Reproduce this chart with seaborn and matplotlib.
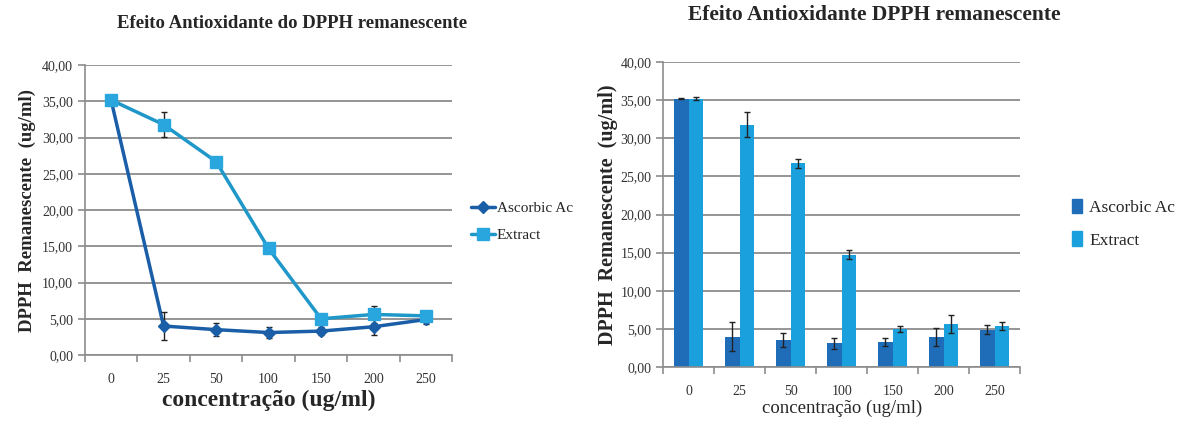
import numpy as np
import pandas as pd
import matplotlib
matplotlib.use("Agg")
import matplotlib.pyplot as plt
import seaborn as sns
from matplotlib.ticker import FuncFormatter, FixedLocator
from matplotlib.container import BarContainer
from matplotlib.lines import Line2D
from matplotlib.patches import Patch

categories = ["0", "25", "50", "100", "150", "200", "250"]
ascorbic = [35.2, 4.0, 3.5, 3.1, 3.3, 3.9, 4.9]
ascorbic_err = [0.1, 1.9, 0.9, 0.7, 0.5, 1.2, 0.6]
extract = [35.2, 31.8, 26.7, 14.7, 5.0, 5.6, 5.4]
extract_err = [0.2, 1.7, 0.6, 0.6, 0.4, 1.2, 0.5]
series_names = ["Ascorbic Ac", "Extract"]
yticks = [0, 5, 10, 15, 20, 25, 30, 35, 40]

sns.set_theme(style="white")
plt.rcParams["font.family"] = ["Liberation Serif", "DejaVu Serif"]

c_asc_line = "#1a5ea8"
c_ext_line = "#1f97c8"
c_ext_mark = "#2aa6df"
c_asc_bar = "#1f6db8"
c_ext_bar = "#1aa0dc"

fig = plt.figure(figsize=(11.78, 4.29), dpi=100)
ax1 = fig.add_axes([0.072, 0.1725, 0.312, 0.6755])
ax2 = fig.add_axes([0.563, 0.1445, 0.303, 0.711])

n = len(categories)
df = pd.DataFrame({
    "pos": list(range(n)) * 2,
    "value": ascorbic + extract,
    "err": ascorbic_err + extract_err,
    "serie": [series_names[0]] * n + [series_names[1]] * n,
    "cat": categories * 2,
})

fmt = FuncFormatter(lambda v, p: f"{v:.2f}".replace(".", ","))

def style_axis(ax):
    ax.set_ylim(0, 40)
    ax.set_yticks(yticks)
    ax.yaxis.set_major_formatter(fmt)
    ax.set_xlim(-0.5, n - 0.5)
    ax.grid(axis="y", color="#8c8c8c", linewidth=1.3)
    ax.grid(axis="x", visible=False)
    for s in ["top", "right"]:
        ax.spines[s].set_visible(False)
    for s in ["left", "bottom"]:
        ax.spines[s].set_color("#8c8c8c")
        ax.spines[s].set_linewidth(1.2)
    ax.set_xticks(range(n))
    ax.set_xticklabels(categories)
    ax.xaxis.set_minor_locator(FixedLocator(np.arange(-0.5, n, 1.0)))
    ax.tick_params(axis="x", which="major", length=0, pad=13, labelsize=10, labelcolor="#333333")
    ax.tick_params(axis="x", which="minor", length=5, width=1.2, color="#8c8c8c", direction="out", bottom=True)
    ax.tick_params(axis="y", which="major", length=5, width=1.2, color="#8c8c8c", direction="out",
                   labelsize=10, labelcolor="#333333", left=True)
    ax.set_axisbelow(True)

# Left: line chart
sns.lineplot(data=df, x="pos", y="value", hue="serie", palette=[c_asc_line, c_ext_line],
             ax=ax1, linewidth=2.5, legend=False, zorder=3)
for name, vals, errs, mk, ms, mc in [
    (series_names[0], ascorbic, ascorbic_err, "D", 6, c_asc_line),
    (series_names[1], extract, extract_err, "s", 9, c_ext_mark),
]:
    ax1.errorbar(range(n), vals, yerr=errs, fmt="none", ecolor="#222222", elinewidth=1, capsize=2.5, zorder=4)
    ax1.plot(range(n), vals, linestyle="none", marker=mk, markersize=ms, color=mc, zorder=5)
style_axis(ax1)
ax1.set_xlabel("concentração (ug/ml)", fontsize=17, fontweight="bold", labelpad=3)
ax1.set_ylabel("DPPH  Remanescente  (ug/ml)", fontsize=13.5, fontweight="bold", labelpad=4)
ax1.set_title("Efeito Antioxidante do DPPH remanescente", fontsize=13.5, fontweight="bold", pad=27, x=0.564)
h1 = [Line2D([], [], color=c_asc_line, lw=2.5, marker="D", markersize=6),
      Line2D([], [], color=c_ext_line, lw=2.5, marker="s", markersize=8, markerfacecolor=c_ext_mark, markeredgecolor=c_ext_mark)]
ax1.legend(h1, series_names, loc="center left", bbox_to_anchor=(1.03, 0.46), frameon=False,
           fontsize=11, handlelength=1.6, handletextpad=0.1, labelspacing=0.85, borderpad=0)

# Right: bar chart
sns.barplot(data=df, x="cat", y="value", hue="serie", palette=[c_asc_bar, c_ext_bar],
            ax=ax2, errorbar=None, width=0.57, saturation=1, order=categories, legend=False,
            linewidth=0)
bar_conts = [c for c in ax2.containers if isinstance(c, BarContainer)]
for cont, vals, errs in zip(bar_conts, [ascorbic, extract], [ascorbic_err, extract_err]):
    xs = [b.get_x() + b.get_width() / 2 for b in cont]
    ax2.errorbar(xs, vals, yerr=errs, fmt="none", ecolor="#222222", elinewidth=1, capsize=2.5, zorder=4)
style_axis(ax2)
ax2.set_xlabel("concentração (ug/ml)", fontsize=13.5, labelpad=1)
ax2.set_ylabel("DPPH  Remanescente  (ug/ml)", fontsize=14.5, fontweight="bold", labelpad=2)
ax2.set_title("Efeito Antioxidante DPPH remanescente", fontsize=15.5, fontweight="bold", pad=30, x=0.59)
h2 = [Patch(color=c_asc_bar), Patch(color=c_ext_bar)]
ax2.legend(h2, series_names, loc="center left", bbox_to_anchor=(1.12, 0.47), frameon=False,
           fontsize=12.5, handlelength=0.6, handleheight=0.9, handletextpad=0.4, labelspacing=0.9, borderpad=0)

fig.savefig("out.png", dpi=100)
